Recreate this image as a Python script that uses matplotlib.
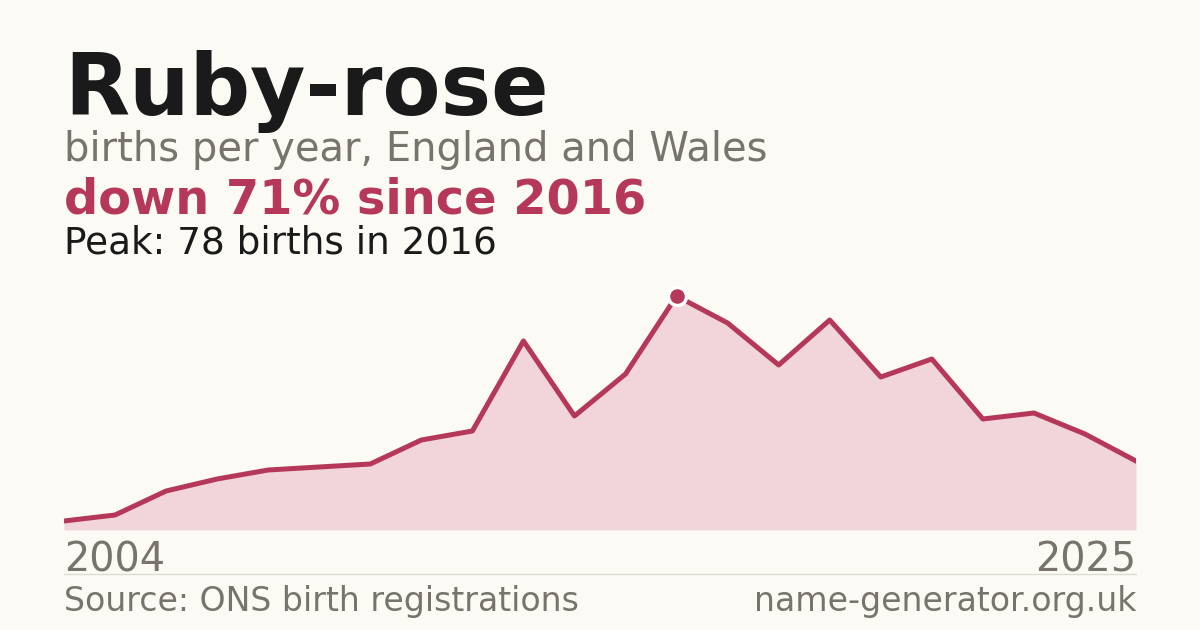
import matplotlib
matplotlib.use("Agg")
import matplotlib.pyplot as plt

# data
years = list(range(2004, 2026))
births = [3, 5, 13, 17, 20, 21, 22, 30, 33, 63, 38, 52, 78,
          69, 55, 70, 51, 57, 37, 39, 32, 23]

name = "Ruby-rose"
subtitle = "births per year, England and Wales"
headline = "down 71% since 2016"
peak_text = "Peak: 78 births in 2016"
source = "Source: ONS birth registrations"
site = "name-generator.org.uk"

BG = "#fbfaf5"
RED = "#b5385a"
FILL = "#f1d5da"
GREY = "#78736c"
DARK = "#1a1a1a"

W, H = 1200, 630
fig = plt.figure(figsize=(W / 100, H / 100), dpi=100, facecolor=BG)


def px(x, y):
    return x / W, 1 - y / H


fig.text(*px(64, 115), name, fontsize=61, fontweight="bold", color=DARK, va="baseline")
fig.text(*px(64, 161), subtitle, fontsize=28.8, color=GREY, va="baseline")
fig.text(*px(64, 214), headline, fontsize=34.5, fontweight="bold", color=RED, va="baseline")
fig.text(*px(64, 254), peak_text, fontsize=26.9, color=DARK, va="baseline")

# chart area
left, right, top, bottom = 64, 1136, 296, 530
ax = fig.add_axes([left / W, 1 - bottom / H, (right - left) / W, (bottom - top) / H])
ax.set_facecolor(BG)
ax.fill_between(years, births, 0, color=FILL, lw=0)
ax.plot(years, births, color=RED, lw=3.6)
i = births.index(max(births))
ax.plot(years[i], births[i], "o", ms=13, color=RED, mec="white", mew=2.5, zorder=5, clip_on=False)
ax.set_xlim(years[0], years[-1])
ax.set_ylim(0, max(births))
ax.axis("off")

fig.text(*px(64, 571), str(years[0]), fontsize=28.6, color=GREY, va="baseline")
fig.text(*px(1136, 571), str(years[-1]), fontsize=28.6, color=GREY, va="baseline", ha="right")

line = plt.Line2D([left / W, right / W], [1 - 574 / H] * 2, color="#dedbd3", lw=1,
                  transform=fig.transFigure)
fig.add_artist(line)

fig.text(*px(64, 611), source, fontsize=23.9, color=GREY, va="baseline")
fig.text(*px(1136, 611), site, fontsize=23.9, color=GREY, va="baseline", ha="right")

fig.savefig("out.png", dpi=100, facecolor=BG)
